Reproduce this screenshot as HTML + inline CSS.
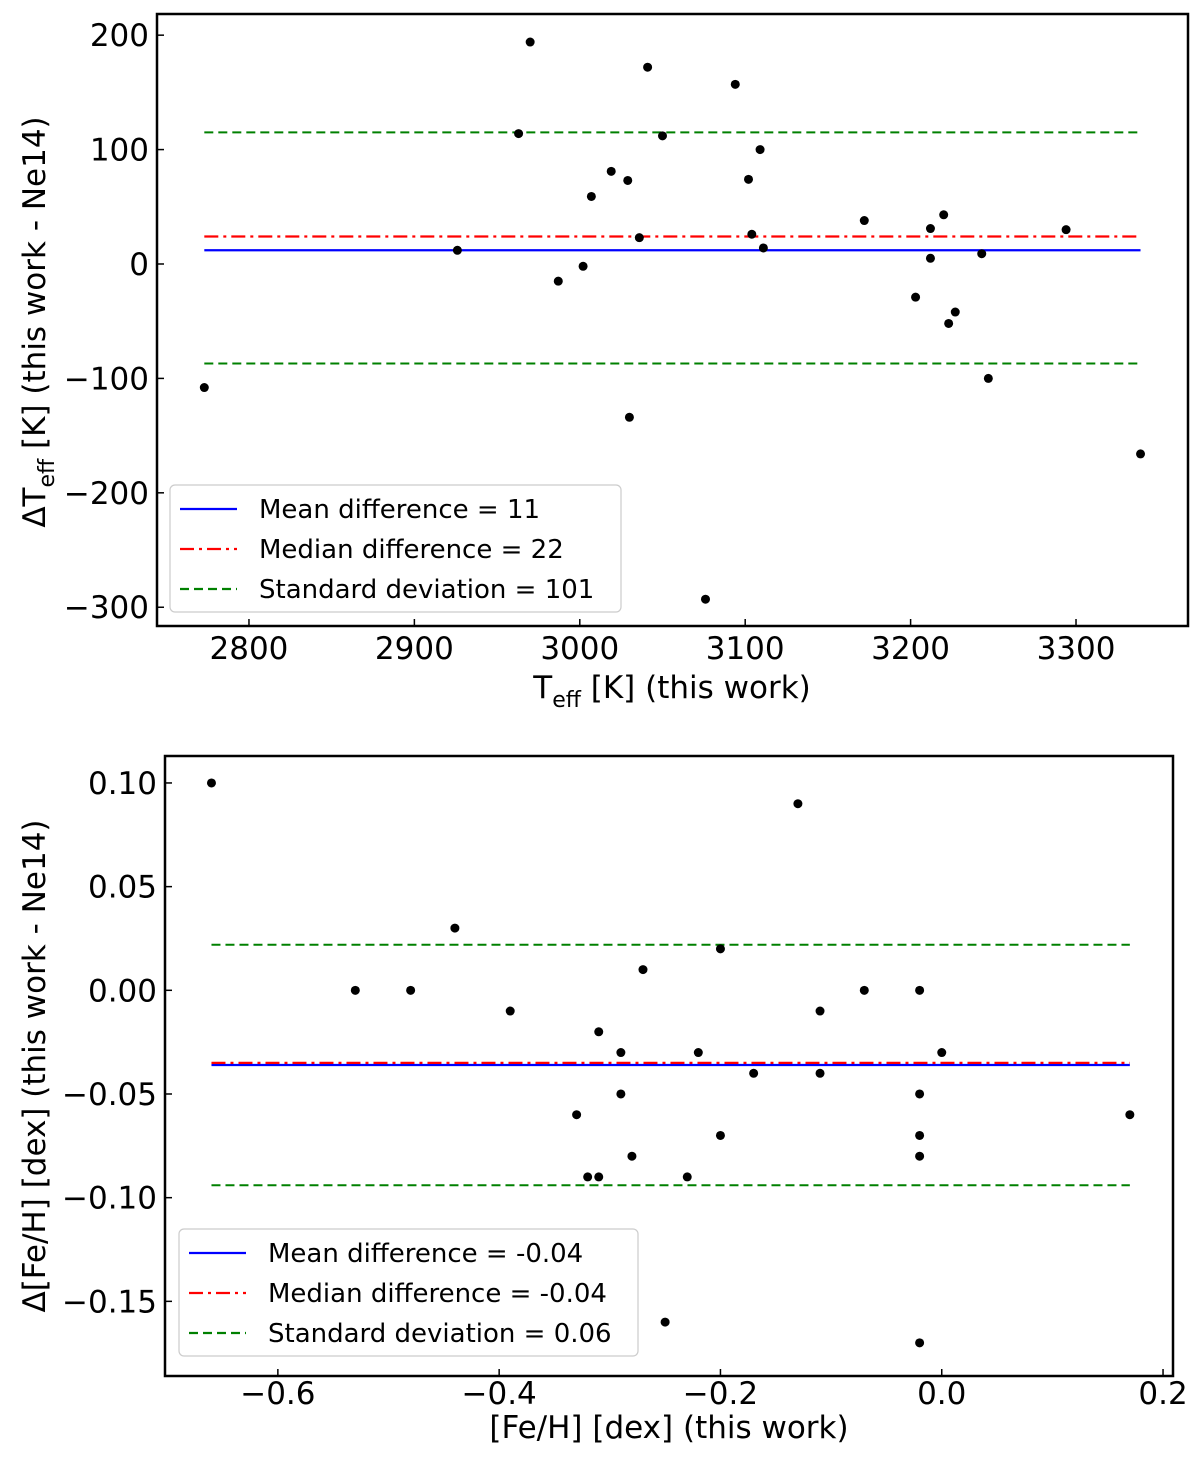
<!DOCTYPE html>
<html><head><meta charset="utf-8"><style>
body{margin:0;background:#fff}
svg text{font-family:"DejaVu Sans","Liberation Sans",sans-serif;fill:#000}
</style></head><body>
<svg id="chart" width="1200" height="1454" viewBox="0 0 1200 1454" xmlns="http://www.w3.org/2000/svg"></svg>
<script>
const teffX=[2773,2970,2963,2926,2987,3002,3007,3019,3029,3036,3030,3041,3050,3076,3094,3102,3104,3109,3111,3172,3212,3220,3212,3203,3227,3223,3243,3247,3294,3339];
const teffDY=[-108,194,114,12,-15,-2,59,81,73,23,-134,172,112,-293,157,74,26,100,14,38,31,43,5,-29,-42,-52,9,-100,30,-166];
const teffStats=[12,24,115,-87];
const teffXTicks=[2800,2900,3000,3100,3200,3300];
const teffYTicks=[200,100,0,-100,-200,-300];
const fehX=[-0.66,-0.53,-0.48,-0.44,-0.39,-0.33,-0.32,-0.31,-0.31,-0.29,-0.29,-0.28,-0.27,-0.25,-0.23,-0.22,-0.20,-0.20,-0.17,-0.13,-0.11,-0.11,-0.07,-0.02,-0.02,-0.02,-0.02,-0.02,0.0,0.17];
const fehDY=[0.10,0,0,0.03,-0.01,-0.06,-0.09,-0.02,-0.09,-0.03,-0.05,-0.08,0.01,-0.16,-0.09,-0.03,-0.07,0.02,-0.04,0.09,-0.01,-0.04,0,0,-0.05,-0.07,-0.08,-0.17,-0.03,-0.06];
const fehStats=[-0.036,-0.035,0.022,-0.094];
const fehXTicks=[-0.6,-0.4,-0.2,0.0,0.2];
const fehYTicks=[0.10,0.05,0.00,-0.05,-0.10,-0.15];
const svg=document.getElementById('chart');
const NS='http://www.w3.org/2000/svg';
function mk(tag,attrs,parent,name){const e=document.createElementNS(NS,tag);for(const k in attrs)e.setAttribute(k,attrs[k]);


(parent||svg).appendChild(e);return e;}
function fmtMinus(s){return s.replace('-','\u2212');}
function panel(p){
 const g=mk('g',{},svg,p.name);
 const sx=v=>p.L+(v-p.x0)/(p.x1-p.x0)*(p.R-p.L);
 const sy=v=>p.T+(p.y1-v)/(p.y1-p.y0)*(p.B-p.T);
 const xmin=Math.min(...p.xs),xmax=Math.max(...p.xs);
 const st=p.stats;
 const lines=[[st[0],'#0000ff','',2.2,'mean-line'],[st[1],'#ff0000','14,5,3,5',2.2,'median-line'],[st[2],'#008000','9,5',2,'std-upper-line'],[st[3],'#008000','9,5',2,'std-lower-line']];
 for(const l of [lines[2],lines[3],lines[0],lines[1]]){
  const e=mk('line',{x1:sx(xmin),x2:sx(xmax),y1:sy(l[0]),y2:sy(l[0]),stroke:l[1],'stroke-width':l[3]},g,l[4]);
  if(l[2])e.setAttribute('stroke-dasharray',l[2]);
 }
 for(let i=0;i<p.xs.length;i++){mk('circle',{cx:sx(p.xs[i]),cy:sy(p.ys[i]),r:4.5,fill:'#000'},g,'data-point');}
 mk('rect',{x:p.L,y:p.T,width:p.R-p.L,height:p.B-p.T,fill:'none',stroke:'#000','stroke-width':2.5},g,'plot-frame');
 for(const t of p.xt){const x=sx(t);
  mk('line',{x1:x,x2:x,y1:p.B,y2:p.B-7,stroke:'#000','stroke-width':1.5},g,'x-tick');
  const tx=mk('text',{x:x,y:p.B+p.xo,'font-size':31,'text-anchor':'middle'},g,'x-tick-label');tx.textContent=fmtMinus(p.xf(t));}
 for(const t of p.yt){const y=sy(t);
  mk('line',{x1:p.L,x2:p.L+7,y1:y,y2:y,stroke:'#000','stroke-width':1.5},g,'y-tick');
  const tx=mk('text',{x:p.L-8,y:y+11,'font-size':31,'text-anchor':'end'},g,'y-tick-label');tx.textContent=fmtMinus(p.yf(t));}
 const lg=mk('g',{},g,'legend');
 mk('rect',{x:p.lx,y:p.ly,width:p.lw,height:127,rx:5,fill:'#fff',stroke:'#ccc','stroke-width':1.2},lg,'legend-box');
 const ent=[['#0000ff','','Mean difference = '+p.lab[0],'legend-mean'],['#ff0000','14,5,3,5','Median difference = '+p.lab[1],'legend-median'],['#008000','9,5','Standard deviation = '+p.lab[2],'legend-std']];
 ent.forEach((e,i)=>{const y=p.ly+24+i*40;
  const ln=mk('line',{x1:p.lx+10,x2:p.lx+67,y1:y,y2:y,stroke:e[0],'stroke-width':2.2},lg,e[3]+'-line');if(e[1])ln.setAttribute('stroke-dasharray',e[1]);
  const t=mk('text',{x:p.lx+89,y:y+9,'font-size':26},lg,e[3]+'-label');t.textContent=e[2];});
 return g;
}
const g1=panel({name:'teff-panel',L:157,R:1188,T:14,B:626,x0:2744.4,x1:3367.7,y0:-316.4,y1:218.5,xs:teffX,ys:teffDY,stats:teffStats,xt:teffXTicks,yt:teffYTicks,xf:t=>String(t),yf:t=>String(t),lx:170,ly:485,lw:451,lab:['11','22','101'],xo:33});
const g2=panel({name:'feh-panel',L:165,R:1173,T:756,B:1376,x0:-0.702,x1:0.209,y0:-0.186,y1:0.113,xs:fehX,ys:fehDY,stats:fehStats,xt:fehXTicks,yt:fehYTicks,xf:t=>t.toFixed(1),yf:t=>t.toFixed(2),lx:179,ly:1229,lw:459,lab:['-0.04','-0.04','0.06'],xo:28});
</script>
<svg style="position:absolute;left:0;top:0" width="1200" height="1454">
<text x="672" y="698" font-size="31" text-anchor="middle" font-family="DejaVu Sans, Liberation Sans, sans-serif">T<tspan font-size="22" dy="9">eff</tspan><tspan dy="-9"> [K] (this work)</tspan></text>
<text transform="translate(45,322) rotate(-90)" font-size="31" text-anchor="middle" font-family="DejaVu Sans, Liberation Sans, sans-serif">ΔT<tspan font-size="22" dy="9">eff</tspan><tspan dy="-9"> [K] (this work - Ne14)</tspan></text>
<text x="669" y="1438" font-size="31" text-anchor="middle" font-family="DejaVu Sans, Liberation Sans, sans-serif">[Fe/H] [dex] (this work)</text>
<text transform="translate(45,1066) rotate(-90)" font-size="31" text-anchor="middle" font-family="DejaVu Sans, Liberation Sans, sans-serif">Δ[Fe/H] [dex] (this work - Ne14)</text>
</svg>
</body></html>
